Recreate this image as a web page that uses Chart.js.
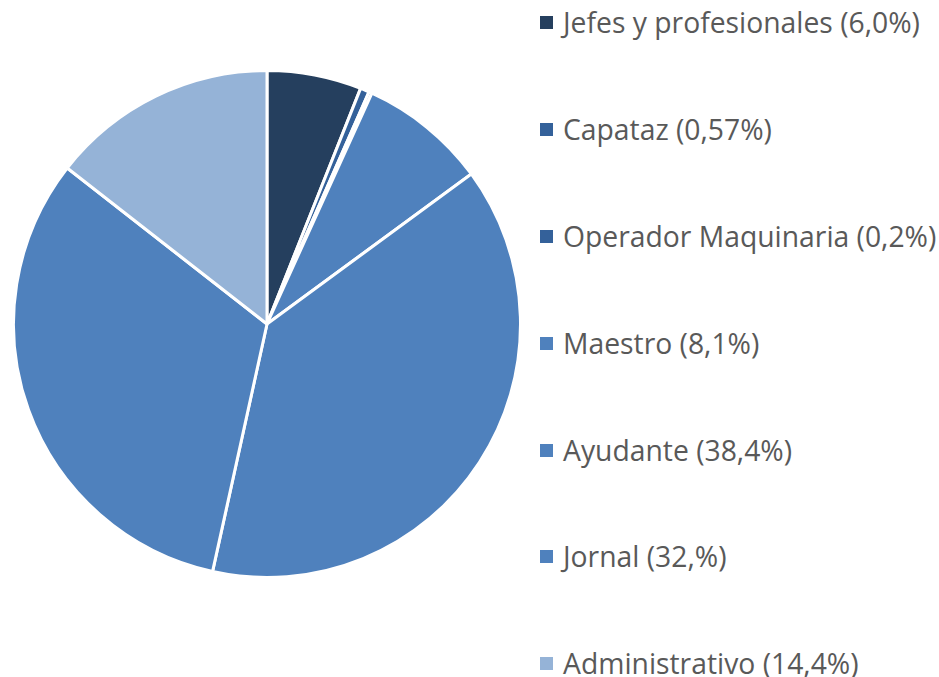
<!DOCTYPE html>
<html><head><meta charset="utf-8">
<script src="https://cdn.jsdelivr.net/npm/chart.js@4.4.1/dist/chart.umd.min.js"></script>
<style>
html,body{margin:0;padding:0;background:#fff;width:939px;height:677px;overflow:hidden;position:relative;}
#pieBox{position:absolute;left:12px;top:69px;width:510px;height:510px;}
#legend{position:absolute;left:0;top:0;}
.item{position:absolute;left:540px;height:34px;display:flex;align-items:center;font-family:"Open Sans",Lato,sans-serif;font-size:26px;color:#595959;white-space:nowrap;}
.sw{width:13px;height:13px;margin-right:10px;display:inline-block;flex:none;}
</style></head><body>
<div id="pieBox"><canvas id="c"></canvas></div>
<div id="legend"></div>
<script>
const categories = ["Jefes y profesionales (6,0%)","Capataz (0,57%)","Operador Maquinaria (0,2%)","Maestro (8,1%)","Ayudante (38,4%)","Jornal (32,%)","Administrativo (14,4%)"];
const values = [6.0, 0.57, 0.2, 8.1, 38.4, 32.0, 14.4];
const colors = ["#253F5E","#34619A","#34619A","#4F81BD","#4F81BD","#4F81BD","#95B3D7"];

const chart = new Chart(document.getElementById('c'), {
  type: 'pie',
  data: { labels: categories, datasets: [{ data: values, backgroundColor: colors, borderColor: '#ffffff', borderWidth: 3 }] },
  options: {
    responsive: true, maintainAspectRatio: false, animation: false,
    layout: { padding: 0 },
    plugins: { legend: { display: false }, tooltip: { enabled: false } }
  }
});

// font size chosen so the first legend label spans ~357px like the reference
const mctx = document.createElement('canvas').getContext('2d');
mctx.font = '26px "Open Sans"';
const fs = Math.min(30, 26 * 357 / mctx.measureText(categories[0]).width);

const legendItems = chart.options.plugins.legend.labels.generateLabels(chart);
const lg = document.getElementById('legend');
const centers = [22,129,236,343,450,556,663];
legendItems.forEach((it, i) => {
  const d = document.createElement('div');
  d.className = 'item';
  d.style.top = (centers[i] - 17) + 'px';
  d.style.fontSize = fs.toFixed(2) + 'px';
  const s = document.createElement('span');
  s.className = 'sw';
  s.style.background = colors[i];
  d.appendChild(s);
  d.appendChild(document.createTextNode(it.text));
  lg.appendChild(d);
});
</script>
</body></html>
